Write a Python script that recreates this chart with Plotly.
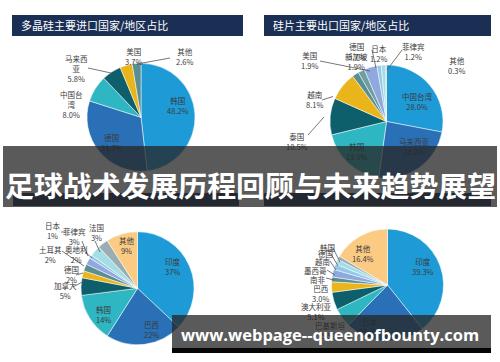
import plotly.graph_objects as go

W, H = 500, 362

# ---------------- data ----------------
p1_title = "多晶硅主要进口国家/地区占比"
p1_labels = ["韩国", "德国", "中国台湾", "马来西亚", "美国", "其他"]
p1_values = [48.2, 31.7, 8.0, 5.8, 3.7, 2.6]

p2_title = "硅片主要出口国家/地区占比"
p2_labels = ["中国台湾", "马来西亚", "韩国", "泰国", "越南", "美国", "新加坡", "德国", "日本", "菲律宾", "其他"]
p2_values = [28.0, 24.2, 19.0, 10.5, 8.1, 1.9, 1.9, 3.7, 1.2, 1.2, 0.3]

p3_labels = ["印度", "巴西", "韩国", "加拿大", "德国", "土耳其", "奥地利", "日本", "菲律宾", "法国", "其他"]
p3_values = [37, 22, 14, 5, 2, 2, 2, 1, 3, 3, 9]

p4_labels = ["印度", "日本", "巴基斯坦", "澳大利亚", "巴西", "南非", "墨西哥", "越南", "德国", "韩国", "其他"]
p4_values = [39.3, 23.0, 5.5, 5.1, 3.0, 1.4, 2.2, 1.6, 1.5, 1.0, 16.4]

banner_text = "足球战术发展历程回顾与未来趋势展望"
watermark_text = "www.webpage--queenofbounty.com"

# ---------------- style ----------------
LB, BL, CY, DT, GO = "#1e9bd7", "#2a70b6", "#2fb6c3", "#0c5f6b", "#eab51b"
GT, LV, LB2, LC, GR, PE = "#5b8e91", "#8fa9de", "#93c8ea", "#a4dde4", "#9aaeb2", "#fbcb84"
p1_colors = [LB, BL, CY, DT, GO, GT]
p2_colors = [LB, BL, CY, DT, GO, GT, "#6e9ea0", LV, LB2, LC, GR]
p3_colors = [LB, BL, CY, DT, GO, GT, LV, LB2, LC, GR, PE]
p4_colors = [LB, BL, CY, DT, GO, GT, LV, LB2, LC, GR, PE]

FONT = "Noto Sans CJK SC"
NAVY = "#1b2f55"
LBL_COLOR = "#3a3a3a"
LBL_SIZE = 7.5


def X(px):
    return px / W


def Y(py):
    return 1 - py / H


fig = go.Figure()


def add_pie(labels, values, colors, cx, cy, r):
    fig.add_trace(go.Pie(
        labels=labels, values=values, sort=False, direction="clockwise", rotation=0,
        marker=dict(colors=colors, line=dict(color="white", width=0.5)),
        textinfo="none", hoverinfo="skip", showlegend=False,
        domain=dict(x=[X(cx - r), X(cx + r)], y=[Y(cy + r), Y(cy - r)]),
    ))


add_pie(p1_labels, p1_values, p1_colors, 141, 117.3, 54)
add_pie(p2_labels, p2_values, p2_colors, 386.5, 121.5, 56.5)
add_pie(p3_labels, p3_values, p3_colors, 137.5, 288.3, 56.5)
add_pie(p4_labels, p4_values, p4_colors, 387.5, 285, 56)

shapes = []
annotations = []

# title bars
for (x0, x1, y0, y1) in [(12, 243, 15, 36), (264, 491, 15, 36), (13, 239, 193, 206), (264, 491, 193, 206)]:
    shapes.append(dict(type="rect", xref="paper", yref="paper", x0=X(x0), x1=X(x1), y0=Y(y1), y1=Y(y0),
                       fillcolor=NAVY, line=dict(width=0), layer="below"))
for (tx, title) in [(19, p1_title), (271, p2_title)]:
    annotations.append(dict(x=X(tx), y=Y(25.5), xref="paper", yref="paper", xanchor="left", yanchor="middle",
                            text=title, showarrow=False, font=dict(family=FONT, size=11, color="white")))


def wrap(name, n):
    return name if len(name) <= n else name[:n] + "<br>" + name[n:]


def add_labels(labels, values, pos, fmt):
    for i, (px, py, mode) in pos.items():
        name = labels[i]
        if mode == "wrap":
            name = wrap(name, 3)
        if mode == "name":
            t = name
        else:
            t = name + "<br>" + (fmt.format(values[i]))
        annotations.append(dict(x=X(px), y=Y(py), xref="paper", yref="paper", xanchor="center", yanchor="middle",
                                text=t, showarrow=False,
                                font=dict(family=FONT, size=LBL_SIZE, color=LBL_COLOR)))


add_labels(p1_labels, p1_values, {
    0: (178, 105.5, ""), 1: (112, 142.5, ""), 2: (71, 104.5, "wrap"), 3: (76, 68.5, "wrap"),
    4: (133, 57, ""), 5: (184, 57, "")}, "{:.1f}%")
add_labels(p2_labels, p2_values, {
    0: (417, 101.5, ""), 1: (414, 146.5, ""), 2: (357, 151.5, ""), 3: (297, 141, ""), 4: (314, 99.5, ""),
    5: (309, 61, ""), 6: (356, 61.3, ""), 7: (356, 51.5, ""), 8: (378, 53, ""), 9: (413, 52, ""),
    10: (456, 65, "")}, "{:.1f}%")
add_labels(p3_labels, p3_values, {
    0: (173, 266, ""), 1: (152, 329, ""), 2: (103, 314, ""), 3: (65, 290, ""), 4: (71, 274, ""),
    5: (50, 254, ""), 6: (76, 254, ""), 7: (53, 230.5, ""), 8: (74, 236, ""), 9: (96, 232.5, ""),
    10: (127, 245, "")}, "{:d}%")
add_labels(p4_labels, p4_values, {
    0: (423, 266, ""), 1: (370, 326, ""), 2: (330, 330.5, ""), 3: (316, 311.5, ""), 4: (320, 293.3, ""),
    5: (318, 279, "name"), 6: (315, 270, "name"), 7: (323, 261, "name"), 8: (325, 253.5, "name"),
    9: (327, 247.5, "name"), 10: (363, 253, "")}, "{:.1f}%")

# leader lines
leaders = [
    (88, 68, 111, 73), (170, 58, 137, 64),
    (308, 135, 324, 117), (322, 100, 333, 96.5), (320, 61, 370, 71), (372, 50, 376, 68), (402, 50, 387, 70),
    (95, 241, 100, 252), (82, 241, 88, 256), (85, 252, 92, 258), (62, 251, 84, 266), (76, 275, 83, 273),
    (73, 287, 84, 281), (61, 232, 66, 232),
    (333, 248, 340, 262), (331, 254, 338, 266), (330, 261, 336, 270), (327, 270, 335, 275), (326, 278, 334, 280),
]
for (x0, y0, x1, y1) in leaders:
    shapes.append(dict(type="line", xref="paper", yref="paper", x0=X(x0), y0=Y(y0), x1=X(x1), y1=Y(y1),
                       line=dict(color="#555555", width=0.8), layer="above"))

OVER = "rgba(38,38,38,0.76)"
# banner
annotations.append(dict(x=X(250), y=Y(176.5), xref="paper", yref="paper", xanchor="center", yanchor="middle",
                        text=" ", showarrow=False, width=494, height=61, bgcolor=OVER, borderwidth=0, borderpad=0))
annotations.append(dict(x=X(250), y=Y(184), xref="paper", yref="paper", xanchor="center", yanchor="middle",
                        text=banner_text, showarrow=False,
                        font=dict(family=FONT, size=28.9, color="white", weight=700)))
# watermark
annotations.append(dict(x=X(331.5), y=Y(331.5), xref="paper", yref="paper", xanchor="center", yanchor="middle",
                        text=" ", showarrow=False, width=319, height=33, bgcolor=OVER, borderwidth=0, borderpad=0))
annotations.append(dict(x=X(331.5), y=Y(350.5), xref="paper", yref="paper", xanchor="center", yanchor="middle",
                        text=" ", showarrow=False, width=319, height=5, bgcolor="#050505", borderwidth=0,
                        borderpad=0, font=dict(size=4)))
annotations.append(dict(x=X(330), y=Y(334.5), xref="paper", yref="paper", xanchor="center", yanchor="middle",
                        text=watermark_text, showarrow=False,
                        font=dict(family="Open Sans", size=16.5, color="white", weight=700)))

fig.update_layout(width=W, height=H, margin=dict(l=0, r=0, t=0, b=0), paper_bgcolor="white",
                  plot_bgcolor="white", shapes=shapes, annotations=annotations, showlegend=False)

fig.write_html("out.html", config={"displayModeBar": False},
               post_script="document.body.style.margin='0';document.body.style.overflow='hidden';")
